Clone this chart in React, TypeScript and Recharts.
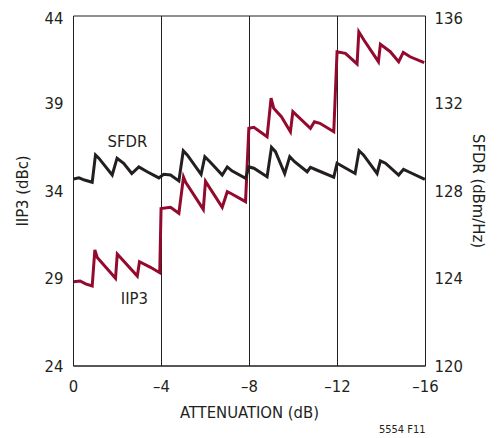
import {
  LineChart, Line, XAxis, YAxis, CartesianGrid, ReferenceDot, Label,
} from 'recharts'

// attenuation (dB) vs IIP3 (dBc)
const iip3Atten = [
  0, -0.3, -0.55, -0.85, -0.97, -1.08, -1.91, -1.99, -2.9, -3.0, -3.5, -3.92,
  -3.98, -4.41, -4.79, -5.0, -5.1, -5.9, -6.0, -6.76, -6.99, -7.2, -7.82,
  -7.97, -8.2, -8.8, -8.98, -9.1, -9.45, -9.86, -9.97, -10.77, -10.95, -11.2, -11.83,
  -11.98, -12.36, -12.89, -12.97, -13.2, -13.86, -13.95, -14.4, -14.78, -14.99, -15.3, -15.94,
]
const iip3Values = [
  28.82, 28.86, 28.69, 28.57, 30.63, 30.2, 29.01, 30.4, 29.14, 29.96, 29.64, 29.33,
  33.0, 33.07, 32.73, 34.8, 34.5, 32.95, 34.55, 33.07, 33.96, 33.83, 33.39,
  37.58, 37.64, 37.1, 39.3, 38.73, 38.25, 37.39, 38.53, 37.58, 37.96, 37.87, 37.39,
  41.96, 41.87, 41.26, 43.1, 42.63, 41.39, 42.38, 41.96, 41.39, 41.92, 41.67, 41.33,
]

// attenuation (dB) vs SFDR (dBm/Hz)
const sfdrAtten = [
  0, -0.25, -0.5, -0.85, -1.0, -1.15, -1.76, -1.98, -2.28, -2.65, -2.97, -3.35, -3.88,
  -4.1, -4.41, -4.79, -4.99, -5.17, -5.8, -5.97, -6.2, -6.76, -6.99, -7.2, -7.82,
  -7.97, -8.2, -8.8, -9.0, -9.18, -9.6, -9.83, -10.05, -10.62, -10.77, -11.05, -11.83,
  -11.98, -12.28, -12.8, -12.98, -13.18, -13.8, -13.95, -14.18, -14.78, -15.0, -15.23, -15.97,
]
const sfdrValues = [
  128.55, 128.6, 128.5, 128.4, 129.65, 129.5, 128.73, 129.5, 129.27, 128.8, 129.1, 128.88, 128.6,
  128.76, 128.73, 128.46, 129.84, 129.65, 128.76, 129.57, 129.34, 128.73, 129.1, 128.92, 128.58,
  129.1, 129.04, 128.65, 130.0, 129.8, 128.8, 129.57, 129.34, 128.88, 129.08, 128.96, 128.63,
  129.27, 129.1, 128.8, 129.84, 129.65, 128.8, 129.38, 129.27, 128.73, 128.99, 128.88, 128.53,
]

const xTicks = [0, -4, -8, -12, -16]
const iip3Ticks = [24, 29, 34, 39, 44]
const sfdrTicks = [120, 124, 128, 132, 136]

const iip3Data = iip3Atten.map((a, i) => ({ atten: a, iip3: iip3Values[i] }))
const sfdrData = sfdrAtten.map((a, i) => ({ atten: a, sfdr: sfdrValues[i] }))

const ink = '#231f20'
const red = '#930a2e'
const font = "'DejaVu Sans Condensed', 'Liberation Sans Narrow', 'Liberation Sans', sans-serif"
const fs = 16.5

const fmtX = (v: number) => (v === 0 ? '0' : '\u2013' + Math.abs(v))

export default function App() {
  return (
    <div style={{ position: 'relative', width: 490.5, height: 430, fontFamily: font }}>
      <LineChart
        width={490.5}
        height={430}
        margin={{ top: 8, right: 0, left: 0.5, bottom: 0 }}
        style={{ fontFamily: font }}
      >
        <CartesianGrid stroke={ink} strokeWidth={1} />
        <XAxis
          dataKey="atten"
          type="number"
          domain={[-16, 0]}
          reversed
          ticks={xTicks}
          tickFormatter={fmtX}
          allowDataOverflow
          height={72}
          tickLine={false}
          tickSize={12}
          axisLine={{ stroke: ink }}
          tick={{ fill: ink, fontSize: fs }}
        >
          <Label value="ATTENUATION (dB)" position="insideBottom" offset={20} fill={ink} fontSize={fs} />
        </XAxis>
        <YAxis
          yAxisId="iip3"
          orientation="left"
          domain={[24, 44]}
          ticks={iip3Ticks}
          width={65}
          tickLine={false}
          tickSize={8}
          axisLine={{ stroke: ink }}
          tick={{ fill: ink, fontSize: fs }}
        >
          <Label
            content={(p: any) => {
              const vb = p.viewBox
              const cx = vb.x + 14
              const cy = vb.y + vb.height / 2
              return (
                <text x={cx} y={cy} transform={`rotate(-90 ${cx} ${cy})`} textAnchor="middle"
                  dominantBaseline="central" fill={ink} fontSize={fs} fontFamily={font}>
                  IIP3 (dBc)
                </text>
              )
            }}
          />
        </YAxis>
        <YAxis
          yAxisId="sfdr"
          orientation="right"
          domain={[120, 136]}
          ticks={sfdrTicks}
          width={73}
          tickLine={false}
          tickSize={7}
          axisLine={{ stroke: ink }}
          tick={{ fill: ink, fontSize: fs, textAnchor: 'start' }}
        >
          <Label
            content={(p: any) => {
              const vb = p.viewBox
              const cx = vb.x + 53
              const cy = vb.y + vb.height / 2
              return (
                <text x={cx} y={cy} transform={`rotate(90 ${cx} ${cy})`} textAnchor="middle"
                  dominantBaseline="central" fill={ink} fontSize={fs} fontFamily={font}>
                  SFDR (dBm/Hz)
                </text>
              )
            }}
          />
        </YAxis>
        <Line
          yAxisId="iip3"
          data={iip3Data}
          dataKey="iip3"
          type="linear"
          stroke={red}
          strokeWidth={3}
          dot={false}
          isAnimationActive={false}
        />
        <Line
          yAxisId="sfdr"
          data={sfdrData}
          dataKey="sfdr"
          type="linear"
          stroke={ink}
          strokeWidth={3}
          dot={false}
          isAnimationActive={false}
        />
        <ReferenceDot yAxisId="sfdr" x={-2.45} y={130.3} r={0} stroke="none" fill="none"
          label={{ value: 'SFDR', position: 'center', fill: ink, fontSize: fs }} />
        <ReferenceDot yAxisId="iip3" x={-2.77} y={27.9} r={0} stroke="none" fill="none"
          label={{ value: 'IIP3', position: 'center', fill: ink, fontSize: fs }} />
      </LineChart>
      <div style={{ position: 'absolute', right: 73, top: 415, fontSize: 11, color: ink }}>
        5554 F11
      </div>
    </div>
  )
}
